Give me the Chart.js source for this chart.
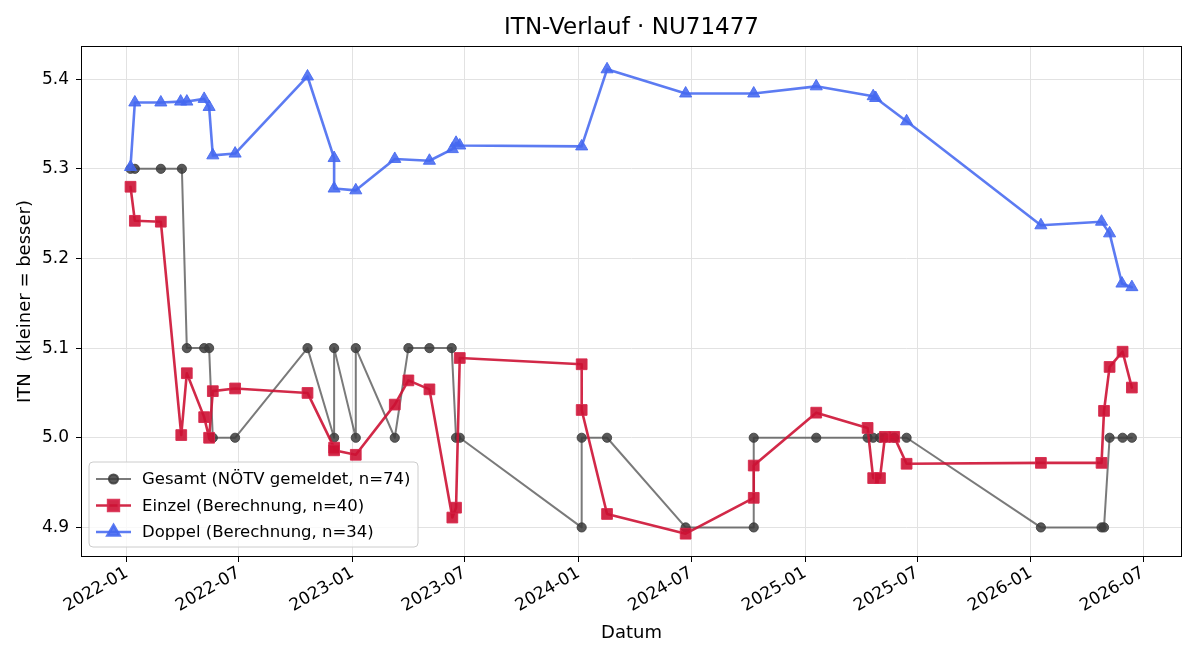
<!DOCTYPE html>
<html>
<head>
<meta charset="utf-8">
<script src="https://cdn.jsdelivr.net/npm/chart.js@4/dist/chart.umd.min.js"></script>
<style>
  body { margin: 0; background: #fff; }
  canvas { display: block; }
</style>
</head>
<body>
<canvas id="itn_chart" width="1200" height="660"></canvas>
<script>
// Gesamt (NÖTV gemeldet)
const gesamtDates = [
  "2022-01-07", "2022-01-14", "2022-02-25", "2022-03-31", "2022-04-08", "2022-05-06",
  "2022-05-14", "2022-05-20", "2022-06-25", "2022-10-20", "2022-12-02", "2022-12-02",
  "2023-01-06", "2023-01-06", "2023-03-10", "2023-04-01", "2023-05-05", "2023-06-10",
  "2023-06-17", "2023-06-23", "2024-01-06", "2024-01-06", "2024-02-16", "2024-06-22",
  "2024-10-10", "2024-10-10", "2025-01-19", "2025-04-12", "2025-04-21", "2025-05-02",
  "2025-05-10", "2025-05-25", "2025-06-14", "2026-01-17", "2026-04-25", "2026-04-29",
  "2026-05-08", "2026-05-29", "2026-06-13"
];
const gesamtValues = [
  5.30, 5.30, 5.30, 5.30, 5.10, 5.10,
  5.10, 5.00, 5.00, 5.10, 5.00, 5.10,
  5.00, 5.10, 5.00, 5.10, 5.10, 5.10,
  5.00, 5.00, 4.90, 5.00, 5.00, 4.90,
  4.90, 5.00, 5.00, 5.00, 5.00, 5.00,
  5.00, 5.00, 5.00, 4.90, 4.90, 4.90,
  5.00, 5.00, 5.00
];

// Einzel (Berechnung)
const einzelDates = [
  "2022-01-07", "2022-01-14", "2022-02-25", "2022-03-30", "2022-04-08", "2022-05-06",
  "2022-05-14", "2022-05-20", "2022-06-25", "2022-10-20", "2022-12-02", "2022-12-02",
  "2023-01-06", "2023-03-10", "2023-04-01", "2023-05-05", "2023-06-11", "2023-06-17",
  "2023-06-23", "2024-01-06", "2024-01-06", "2024-02-16", "2024-06-22", "2024-10-10",
  "2024-10-10", "2025-01-19", "2025-04-12", "2025-04-21", "2025-05-02", "2025-05-10",
  "2025-05-25", "2025-06-14", "2026-01-17", "2026-04-25", "2026-04-29", "2026-05-08",
  "2026-05-29", "2026-06-13"
];
const einzelValues = [
  5.280, 5.242, 5.241, 5.003, 5.072, 5.023,
  5.000, 5.052, 5.055, 5.050, 4.989, 4.986,
  4.981, 5.037, 5.064, 5.054, 4.911, 4.922,
  5.089, 5.082, 5.031, 4.915, 4.893, 4.933,
  4.969, 5.028, 5.011, 4.955, 4.955, 5.001,
  5.001, 4.971, 4.972, 4.972, 5.030, 5.079,
  5.096, 5.056
];

// Doppel (Berechnung)
const doppelDates = [
  "2022-01-07", "2022-01-14", "2022-02-25", "2022-03-29", "2022-04-08", "2022-05-06",
  "2022-05-14", "2022-05-20", "2022-06-25", "2022-10-20", "2022-12-02", "2022-12-02",
  "2023-01-06", "2023-03-10", "2023-05-05", "2023-06-11", "2023-06-17", "2023-06-23",
  "2024-01-06", "2024-02-16", "2024-06-22", "2024-10-10", "2025-01-19", "2025-04-21",
  "2025-04-25", "2025-06-14", "2026-01-17", "2026-04-25", "2026-05-08", "2026-05-28",
  "2026-06-13"
];
const doppelValues = [
  5.302, 5.374, 5.374, 5.375, 5.375, 5.378,
  5.369, 5.315, 5.317, 5.403, 5.312, 5.278,
  5.276, 5.311, 5.309, 5.322, 5.329, 5.326,
  5.325, 5.411, 5.384, 5.384, 5.392, 5.381,
  5.379, 5.353, 5.237, 5.241, 5.228, 5.172,
  5.168
];

const xTickLabels = [
  "2022-01", "2022-07", "2023-01", "2023-07", "2024-01",
  "2024-07", "2025-01", "2025-07", "2026-01", "2026-07"
];
const yTickValues = [4.9, 5.0, 5.1, 5.2, 5.3, 5.4];

const legendLabels = [
  "Gesamt (NÖTV gemeldet, n=74)",
  "Einzel (Berechnung, n=40)",
  "Doppel (Berechnung, n=34)"
];
const chartTitle = "ITN-Verlauf · NU71477";

const toMs = (s) => Date.parse(s + "T00:00:00Z");
const toPoints = (dates, values) => dates.map((d, i) => ({ x: toMs(d), y: values[i] }));

const FONT = "'DejaVu Sans', sans-serif";

// Titel über dem Plotbereich, Rahmen, Legende unten links
const frameAndLegend = {
  id: "frameAndLegend",
  afterDraw(chart) {
    const { ctx, chartArea: a } = chart;
    ctx.save();

    ctx.fillStyle = "#000";
    ctx.font = "23px " + FONT;
    ctx.textAlign = "center";
    ctx.textBaseline = "middle";
    ctx.fillText(chartTitle, (a.left + a.right) / 2, 28);

    ctx.strokeStyle = "#000";
    ctx.lineWidth = 1;
    ctx.strokeRect(Math.round(a.left) + 0.5, Math.round(a.top) + 0.5,
      Math.round(a.right - a.left) - 1, Math.round(a.bottom - a.top) - 1);

    // Legende
    const bx = 89, by = 462, bw = 329, bh = 85, r = 4;
    ctx.beginPath();
    ctx.moveTo(bx + r, by);
    ctx.arcTo(bx + bw, by, bx + bw, by + bh, r);
    ctx.arcTo(bx + bw, by + bh, bx, by + bh, r);
    ctx.arcTo(bx, by + bh, bx, by, r);
    ctx.arcTo(bx, by, bx + bw, by, r);
    ctx.closePath();
    ctx.fillStyle = "rgba(255,255,255,0.8)";
    ctx.fill();
    ctx.strokeStyle = "#cccccc";
    ctx.stroke();

    [0, 1, 2].forEach((di, row) => {
      const ds = chart.data.datasets[di];
      const y = 479 + row * 26.5;
      ctx.beginPath();
      ctx.moveTo(96, y);
      ctx.lineTo(131, y);
      ctx.strokeStyle = ds.borderColor;
      ctx.lineWidth = ds.borderWidth;
      ctx.stroke();
      ctx.fillStyle = ds.pointBackgroundColor;
      ctx.strokeStyle = ds.pointBorderColor;
      Chart.helpers.drawPoint(ctx, {
        pointStyle: ds.pointStyle,
        radius: ds.pointRadius,
        rotation: 0,
        borderWidth: 1
      }, 113.5, y);
      ctx.fillStyle = "#000";
      ctx.font = "16.5px " + FONT;
      ctx.textBaseline = "middle";
      ctx.textAlign = "left";
      ctx.fillText(legendLabels[di], 142, y + 1);
    });
    ctx.restore();
  }
};

const canvas = document.querySelector("#itn_chart");
const ctx = canvas.getContext("2d");

new Chart(ctx, {
  type: "line",
  data: {
    datasets: [
      {
        label: legendLabels[0],
        data: toPoints(gesamtDates, gesamtValues),
        borderColor: "rgba(70,70,70,0.72)",
        borderWidth: 2,
        pointStyle: "circle",
        pointRadius: 4.6,
        pointBackgroundColor: "rgba(60,60,60,0.85)",
        pointBorderColor: "rgba(60,60,60,0.85)",
        pointBorderWidth: 1,
        order: 3
      },
      {
        label: legendLabels[1],
        data: toPoints(einzelDates, einzelValues),
        borderColor: "rgba(205,18,52,0.9)",
        borderWidth: 2.6,
        pointStyle: "rect",
        pointRadius: 7.6,
        pointBackgroundColor: "rgba(205,18,52,0.9)",
        pointBorderColor: "rgba(215,40,75,0.9)",
        pointBorderWidth: 1,
        order: 2
      },
      {
        label: legendLabels[2],
        data: toPoints(doppelDates, doppelValues),
        borderColor: "rgba(70,105,240,0.88)",
        borderWidth: 2.6,
        pointStyle: "triangle",
        pointRadius: 7,
        pointBackgroundColor: "rgba(70,105,240,0.88)",
        pointBorderColor: "rgba(70,105,240,0.88)",
        pointBorderWidth: 1,
        order: 1
      }
    ]
  },
  options: {
    responsive: false,
    animation: false,
    parsing: false,
    layout: { padding: { left: 0, right: 18, top: 46, bottom: 0 } },
    elements: {
      line: { tension: 0, borderJoinStyle: "round", borderCapStyle: "round" }
    },
    plugins: {
      legend: { display: false },
      tooltip: { enabled: false },
      title: { display: false }
    },
    scales: {
      x: {
        type: "linear",
        min: Date.UTC(2021, 9, 19),
        max: Date.UTC(2026, 8, 2),
        afterBuildTicks: (scale) => {
          scale.ticks = xTickLabels.map((t) => ({ value: toMs(t + "-01") }));
        },
        afterFit: (scale) => { scale.height = 103; },
        ticks: {
          autoSkip: false,
          maxRotation: 30,
          minRotation: 30,
          padding: 1,
          color: "#000",
          font: { family: FONT, size: 17 },
          callback: (v) => {
            const d = new Date(v);
            return d.getUTCFullYear() + "-" + String(d.getUTCMonth() + 1).padStart(2, "0");
          }
        },
        grid: { color: "#e2e2e2", tickColor: "#000", tickLength: 5, lineWidth: 1 },
        border: { display: false },
        title: {
          display: true,
          text: "Datum",
          color: "#000",
          font: { family: FONT, size: 18 },
          padding: { top: 4, bottom: 16 }
        }
      },
      y: {
        min: 4.867,
        max: 5.437,
        afterBuildTicks: (scale) => {
          scale.ticks = yTickValues.map((v) => ({ value: v }));
        },
        afterFit: (scale) => { scale.width = 81; },
        ticks: {
          padding: 7,
          color: "#000",
          font: { family: FONT, size: 17 },
          callback: (v) => Number(v).toFixed(1)
        },
        grid: { color: "#e2e2e2", tickColor: "#000", tickLength: 5, lineWidth: 1 },
        border: { display: false },
        title: {
          display: true,
          text: "ITN  (kleiner = besser)",
          color: "#000",
          font: { family: FONT, size: 18 },
          padding: { top: 15, bottom: 4 }
        }
      }
    }
  },
  plugins: [frameAndLegend]
});
</script>
</body>
</html>
